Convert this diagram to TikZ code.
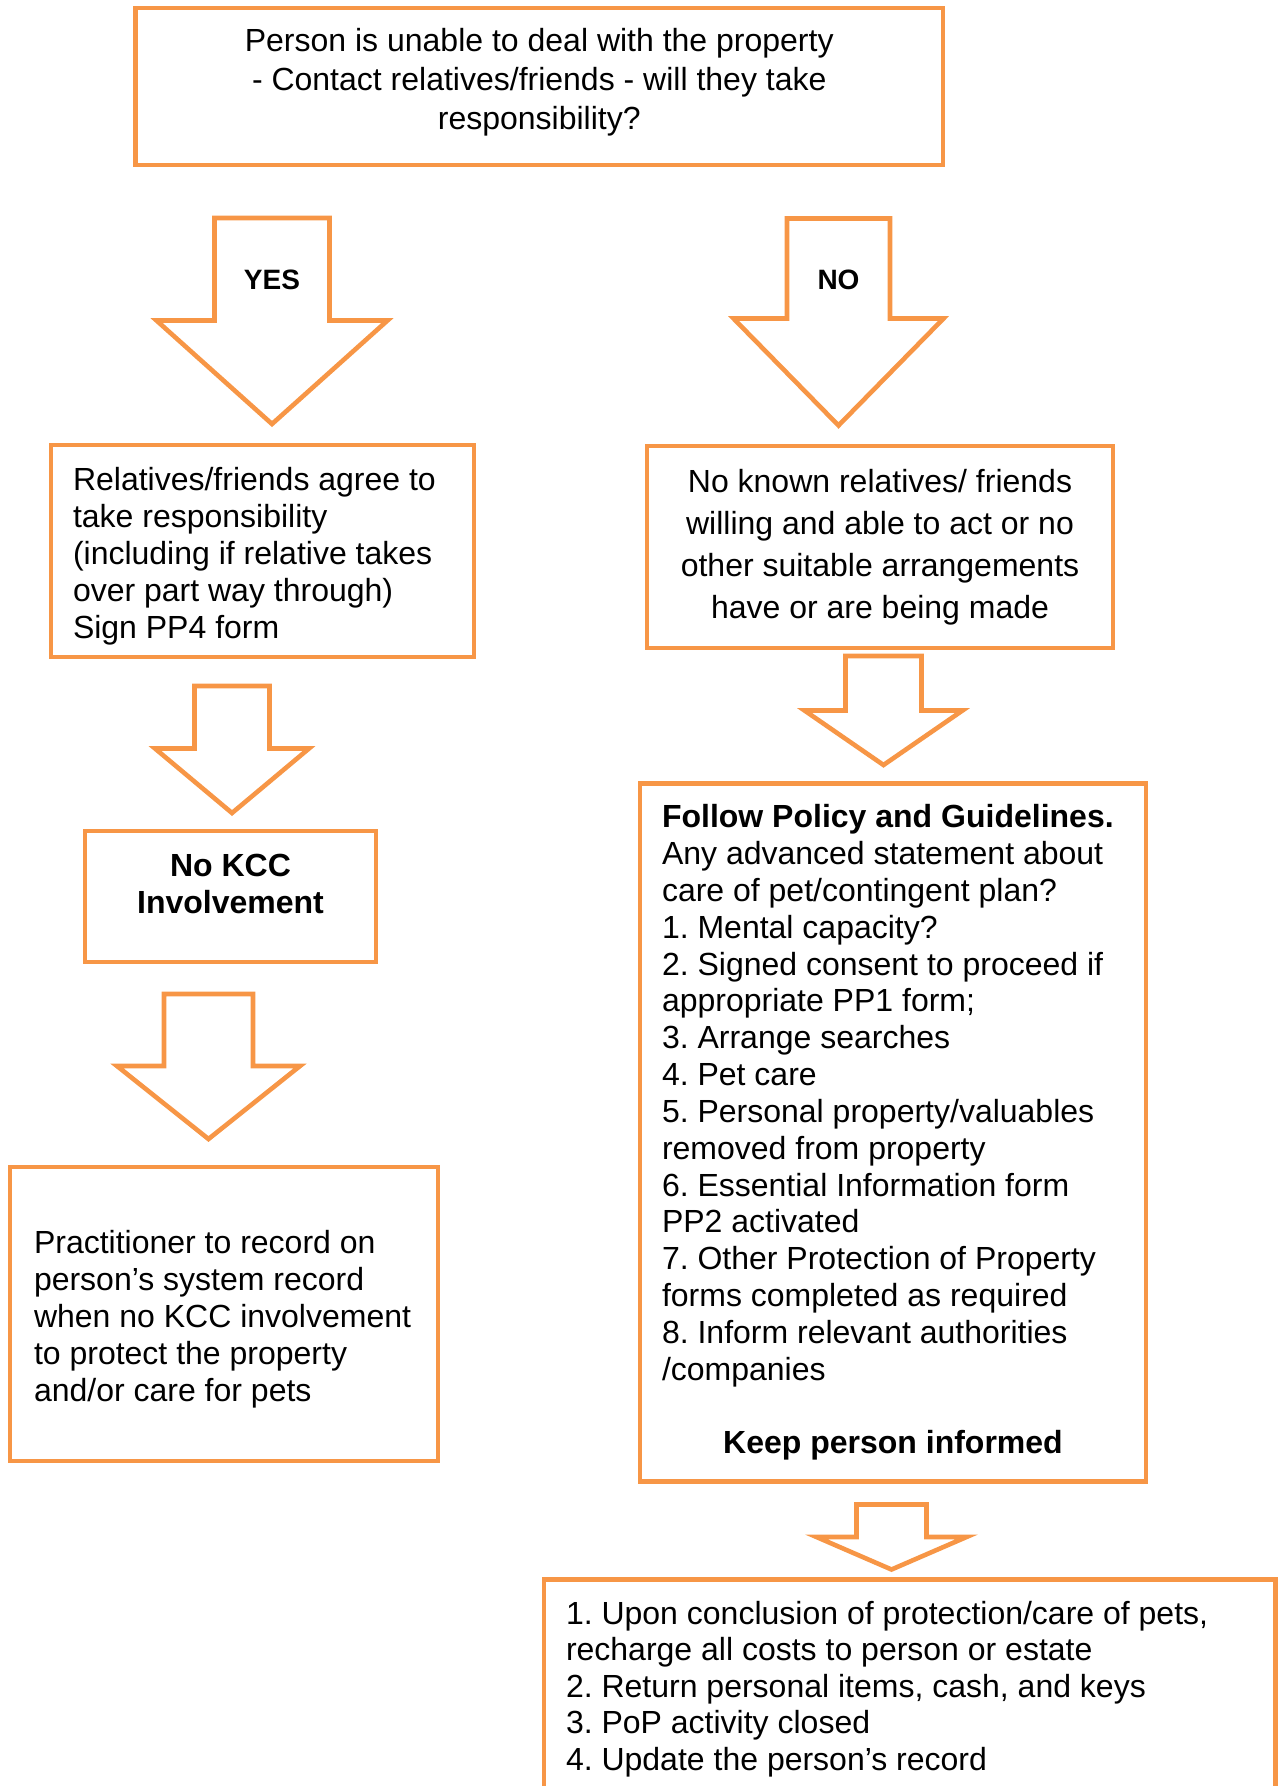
\documentclass[tikz,border=0pt]{standalone}
\usepackage{fontspec}
\setmainfont{Liberation Sans}
\usepackage{tikz}
\definecolor{boxorange}{HTML}{F79646}
\frenchspacing

\begin{document}
\begin{tikzpicture}[
        x=0.5pt, y=-0.5pt,
        textbox/.style={rectangle, draw=boxorange, line width=2.3pt, font=\fontsize{16}{18.5}\selectfont, inner sep=0pt},
        centerbox/.style={textbox, align=flush center},
        leftbox/.style={textbox, align=flush left, inner xsep=11pt},
        answer/.style={font=\fontsize{14}{16}\selectfont\bfseries},
        arrowline/.style={draw=boxorange, line width=2.3pt},
        pics/downarrow/.style args={#1/#2/#3/#4}{code={
            \draw [arrowline] (-#1,0) -- (#1,0) -- (#1,#3) -- (#2,#3) -- (0,#4) -- (-#2,#3) -- (-#1,#3) -- cycle;
        }}
    ]

        \useasboundingbox (0,0) rectangle (1280,1786);

        \node [centerbox, text width=380pt, inner xsep=11.875pt, minimum height=78.5pt, text depth=46.9pt, font=\fontsize{16}{19.5}\selectfont] (Question) at (539.25,86.5) {Person is unable to deal with the property\\- Contact relatives/friends - will they take\\responsibility?};

        \node [leftbox, text width=189.5pt, minimum height=106pt, text depth=72.3pt] (Agree) at (262.5,551) {Relatives/friends agree to\\take responsibility\\(including if relative takes\\over part way through)\\Sign PP4 form};
        \node [centerbox, minimum width=233pt, minimum height=101pt, font=\fontsize{16}{21}\selectfont] (NoRelatives) at (880,547) {No known relatives/ friends\\willing and able to act or no\\other suitable arrangements\\have or are being made};

        \node [textbox, minimum width=145.5pt, minimum height=65.5pt, label={[name=NoKCCText, align=center, font=\fontsize{16}{18.8}\selectfont\bfseries, yshift=6.25pt]center:No KCC\\Involvement}] (NoKCC) at (230.5,896.5) {};
        \node [leftbox, text width=190pt, inner xsep=12pt, minimum height=147pt, text depth=71.7pt] (Record) at (224,1314) {Practitioner to record on\\person’s system record\\when no KCC involvement\\to protect the property\\and/or care for pets};

        \node [leftbox, text width=231pt, minimum height=349pt, font=\fontsize{16}{18.42}\selectfont] (Policy) at (893,1132.5) {\textbf{Follow Policy and Guidelines.}\\Any advanced statement about\\care of pet/contingent plan?\\1. Mental capacity?\\2. Signed consent to proceed if\\appropriate PP1 form;\\3. Arrange searches\\4. Pet care\\5. Personal property/valuables\\removed from property\\6. Essential Information form\\PP2 activated\\7. Other Protection of Property\\forms completed as required\\8. Inform relevant authorities\\/companies\\[18.42pt]\makebox[231pt][c]{\textbf{Keep person informed}}};
        \node [leftbox, text width=343.75pt, minimum height=109.5pt, font=\fontsize{16}{18.25}\selectfont] (Closing) at (909.75,1689) {1. Upon conclusion of protection/care of pets,\\recharge all costs to person or estate\\2. Return personal items, cash, and keys\\3. PoP activity closed\\4. Update the person’s record};

        \pic at (272,218) {downarrow=57.5/115.5/102.5/206};
        \node [answer] (YesLabel) at (272,280) {YES};
        \pic at (838.5,218.5) {downarrow=51.5/105/100/207};
        \node [answer] (NoLabel) at (838.5,280) {NO};
        \pic at (232,686) {downarrow=37.5/77/62.5/127};
        \pic at (883.5,656) {downarrow=38/79/54.5/109};
        \pic at (208.5,994) {downarrow=44.5/91.5/72/145};
        \pic at (891.5,1504.5) {downarrow=35/75/32.5/65};

    \end{tikzpicture}
\end{document}
